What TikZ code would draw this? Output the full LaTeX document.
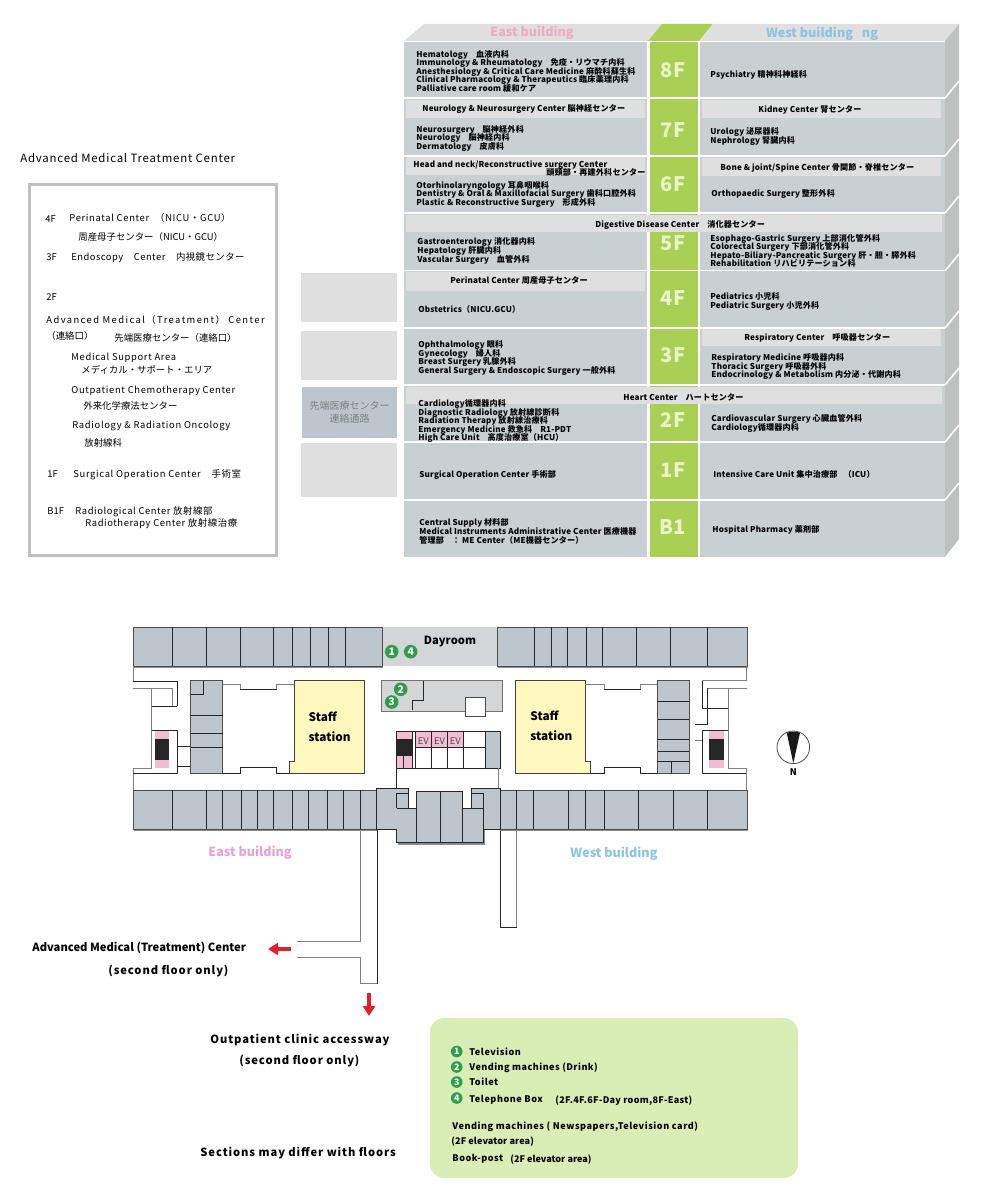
\documentclass[tikz,border=0pt]{standalone}
\usepackage{fontspec}
\setmainfont{Noto Sans CJK JP}
\usetikzlibrary{arrows.meta}
\definecolor{floorgray}{HTML}{C8D0D3}
\definecolor{bandgray}{HTML}{DFDFDF}
\definecolor{sidegray}{HTML}{BFC1C1}
\definecolor{floorgreen}{HTML}{A9CF55}
\definecolor{labelgreen}{HTML}{E9F4C9}
\definecolor{eastpink}{HTML}{F0A9BF}
\definecolor{eastlilac}{HTML}{E8A0D8}
\definecolor{westblue}{HTML}{8AC3E3}
\definecolor{roomgray}{HTML}{BCC6CC}
\definecolor{dayroomgray}{HTML}{D4D5D7}
\definecolor{staffyellow}{HTML}{FFF8BE}
\definecolor{evpink}{HTML}{F4BCD3}
\definecolor{spotgreen}{HTML}{2F9E4B}
\definecolor{legendgreen}{HTML}{D8EEB4}
\definecolor{arrowred}{HTML}{E0202F}
\begin{document}
\begin{tikzpicture}
    [x=0.5pt, y=-0.5pt,
    wide/.style={execute at begin node=\addfontfeature{LetterSpace=#1}},
    dept/.style={anchor=west, inner sep=0pt, yshift=-0.4pt, text height=3.4pt, text depth=0.8pt, font=\fontsize{4.05}{5}\selectfont\bfseries, wide=2},
    floorname/.style={inner sep=0pt, text=labelgreen, font=\fontsize{10}{12}\selectfont\bfseries},
    amtc/.style={anchor=west, inner sep=0pt, yshift=-0.5pt, text height=3.8pt, text depth=1pt, font=\fontsize{4.7}{6}\selectfont},
    wing/.style={inner sep=0pt, font=\fontsize{6.3}{8}\selectfont\bfseries},
    station/.style={anchor=west, inner sep=0pt, font=\fontsize{5.9}{8}\selectfont\bfseries},
    note/.style={anchor=west, inner sep=0pt, yshift=-0.5pt, text height=4pt, text depth=1pt, font=\fontsize{5.6}{7}\selectfont\bfseries},
    legend/.style={anchor=west, inner sep=0pt, yshift=-0.5pt, text height=3.6pt, text depth=1pt, font=\fontsize{4.55}{6}\selectfont\bfseries},
    spot/.style={circle, fill=spotgreen, text=white, inner sep=0pt, minimum size=6.8pt, font=\fontsize{5.2}{6}\selectfont\bfseries},
    spotsmall/.style={spot, minimum size=5.8pt, font=\fontsize{4.4}{5}\selectfont\bfseries},
    wall/.style={line width=0.45pt, black!85},
    softwall/.style={line width=0.45pt, black!50},
    shade/.style={fill=black!45},
    room/.style={fill=roomgray, draw=black!70, line width=0.45pt},
    redarrow/.style={arrowred, line width=2pt, -{Triangle[length=5pt, width=6pt]}}]
    \useasboundingbox (0,0) rectangle (1000,1202);

    %% Floor chart
    \fill[bandgray] (404,41) -- (424,24) -- (662,24) -- (648,41) -- cycle;
    \fill[floorgreen] (648,41) -- (662,24) -- (713,24) -- (699,41) -- cycle;
    \fill[bandgray] (699,41) -- (713,24) -- (959,24) -- (945,41) -- cycle;
    \fill[sidegray] (945,41) -- (959,24) -- (959,539) -- (945,557) -- cycle;
    \foreach \top/\bot in {42/97,99/155,157/212,214/270,271/327,329/384,386/441,443/499,501/557} {
        \fill[floorgray] (404,\top) rectangle (647,\bot);
        \fill[floorgreen] (650,\top) rectangle (698,\bot);
        \fill[floorgray] (700,\top) rectangle (945,\bot);
    }
    \foreach \y in {98,156,213,271,328,385,442,500}
        \draw[white, line width=0.8pt] (945,\y) -- (959,\y-17);
    \fill[bandgray] (406,100) rectangle (645,118);
    \fill[bandgray] (406,157) rectangle (645,175);
    \fill[bandgray] (406,215) rectangle (942,232);
    \fill[bandgray] (406,272) rectangle (645,291);
    \fill[bandgray] (406,387) rectangle (942,404);
    \fill[bandgray] (702,100) rectangle (941,118);
    \fill[bandgray] (702,158) rectangle (941,176);
    \fill[bandgray] (702,329) rectangle (941,346);

    \node[wing, text=eastpink] (East) at (532,33) {East building};
    \node[wing, text=westblue] (West) at (822,33.5) {West building\hspace{3pt} ng};

    \node[floorname] (F8) at (673,70) {8F};
    \node[floorname] (F7) at (673,130) {7F};
    \node[floorname] (F6) at (673,184) {6F};
    \node[floorname] (F5) at (673,243) {5F};
    \node[floorname] (F4) at (673,298) {4F};
    \node[floorname] (F3) at (673,355) {3F};
    \node[floorname] (F2) at (673,420) {2F};
    \node[floorname] (F1) at (673,470) {1F};
    \node[floorname] (B1) at (673,527) {B1};

    %% East departments
    \node[dept] (E8a) at (416,54) {Hematology\hspace{3pt} 血液内科};
    \node[dept] (E8b) at (416,62.5) {Immunology \& Rheumatology\hspace{3pt} 免疫・リウマチ内科};
    \node[dept] (E8c) at (416,71) {Anesthesiology \& Critical Care Medicine 麻酔科蘇生科};
    \node[dept] (E8d) at (416,79.5) {Clinical Pharmacology \& Therapeutics 臨床薬理内科};
    \node[dept] (E8e) at (416,88) {Palliative care room 緩和ケア};
    \node[dept] (E7a) at (422,108.5) {Neurology \& Neurosurgery Center 脳神経センター};
    \node[dept] (E7b) at (416,129) {Neurosurgery\hspace{3pt} 脳神経外科};
    \node[dept] (E7c) at (416,137.5) {Neurology\hspace{3pt} 脳神経内科};
    \node[dept] (E7d) at (416,146) {Dermatology\hspace{3pt} 皮膚科};
    \node[dept] (E6a) at (413,164) {Head and neck/Reconstructive surgery Center};
    \node[dept] (E6b) at (546,172.5) {頭頸部・再建外科センター};
    \node[dept] (E6c) at (416,185) {Otorhinolaryngology 耳鼻咽喉科};
    \node[dept] (E6d) at (416,193.5) {Dentistry \& Oral \& Maxillofacial Surgery 歯科口腔外科};
    \node[dept] (E6e) at (416,202) {Plastic \& Reconstructive Surgery\hspace{3pt} 形成外科};
    \node[dept] (E5a) at (595,224) {Digestive Disease Center\hspace{3pt} 消化器センター};
    \node[dept] (E5b) at (417,241.5) {Gastroenterology 消化器内科};
    \node[dept] (E5c) at (417,250) {Hepatology 肝臓内科};
    \node[dept] (E5d) at (417,259) {Vascular Surgery\hspace{3pt} 血管外科};
    \node[dept] (E4a) at (450,280.5) {Perinatal Center 周産母子センター};
    \node[dept] (E4b) at (418,309) {Obstetrics（NICU.GCU）};
    \node[dept] (E3a) at (418,344.5) {Ophthalmology 眼科};
    \node[dept] (E3b) at (418,353) {Gynecology\hspace{3pt} 婦人科};
    \node[dept] (E3c) at (418,361.5) {Breast Surgery 乳腺外科};
    \node[dept] (E3d) at (418,370) {General Surgery \& Endoscopic Surgery 一般外科};
    \node[dept] (E2a) at (623,397) {Heart Center\hspace{3pt} ハートセンター};
    \node[dept] (E2b) at (418,403) {Cardiology循環器内科};
    \node[dept] (E2c) at (418,412) {Diagnostic Radiology 放射線診断科};
    \node[dept] (E2d) at (418,420.5) {Radiation Therapy 放射線治療科};
    \node[dept] (E2e) at (418,429) {Emergency Medicine 救急科\hspace{3pt} R1-PDT};
    \node[dept] (E2f) at (418,437.5) {High Care Unit\hspace{3pt} 高度治療室（HCU）};
    \node[dept] (E1a) at (419,474) {Surgical Operation Center 手術部};
    \node[dept] (E0a) at (419,522.5) {Central Supply 材料部};
    \node[dept] (E0b) at (419,531) {Medical Instruments Administrative Center 医療機器};
    \node[dept] (E0c) at (419,540) {管理部\hspace{3pt} ： ME Center（ME機器センター）};

    %% West departments
    \node[dept] (W8a) at (710,74) {Psychiatry 精神科神経科};
    \node[dept] (W7a) at (758,109) {Kidney Center 腎センター};
    \node[dept] (W7b) at (710,131) {Urology 泌尿器科};
    \node[dept] (W7c) at (710,140) {Nephrology 腎臓内科};
    \node[dept] (W6a) at (720,167.5) {Bone \& joint/Spine Center 骨関節・脊椎センター};
    \node[dept] (W6b) at (711,193.5) {Orthopaedic Surgery 整形外科};
    \node[dept] (W5a) at (710,238) {Esophago-Gastric Surgery 上部消化管外科};
    \node[dept] (W5b) at (710,246.5) {Colorectal Surgery 下部消化管外科};
    \node[dept] (W5c) at (710,255) {Hepato-Biliary-Pancreatic Surgery 肝・胆・膵外科};
    \node[dept] (W5d) at (710,263.5) {Rehabilitation リハビリテーション科};
    \node[dept] (W4a) at (710,296) {Pediatrics 小児科};
    \node[dept] (W4b) at (710,305) {Pediatric Surgery 小児外科};
    \node[dept] (W3a) at (744,337.5) {Respiratory Center\hspace{3pt} 呼吸器センター};
    \node[dept] (W3b) at (711,357) {Respiratory Medicine 呼吸器内科};
    \node[dept] (W3c) at (711,366) {Thoracic Surgery 呼吸器外科};
    \node[dept] (W3d) at (711,374.5) {Endocrinology \& Metabolism 内分泌・代謝内科};
    \node[dept] (W2a) at (711,418.5) {Cardiovascular Surgery 心臓血管外科};
    \node[dept] (W2b) at (711,427.5) {Cardiology循環器内科};
    \node[dept] (W1a) at (713,474) {Intensive Care Unit 集中治療部\hspace{3pt}（ICU）};
    \node[dept] (W0a) at (712,529) {Hospital Pharmacy 薬剤部};

    %% Link blocks
    \fill[bandgray] (301,273) rectangle (397,322);
    \fill[bandgray] (301,331) rectangle (397,380);
    \fill[roomgray] (302,387) rectangle (397,438);
    \fill[bandgray] (301,443) rectangle (397,497);
    \node[align=center, inner sep=0pt, text=black!50, font=\fontsize{5}{6.6}\selectfont] (Link) at (349.5,412.5) {先端医療センター\\連絡通路};

    %% Advanced Medical Treatment Center
    \node[amtc, font=\fontsize{5.7}{7}\selectfont, wide=7] (Title) at (20,159) {Advanced Medical Treatment Center};
    \draw[sidegray, line width=1.3pt] (29.5,184.5) rectangle (276.5,555.5);
    \node[amtc] (A4) at (45,219) {4F};
    \node[amtc, wide=7] (A4a) at (69,218) {Perinatal Center\hspace{3pt}（NICU・GCU）};
    \node[amtc] (A4b) at (78,237) {周産母子センター（NICU・GCU）};
    \node[amtc] (A3) at (46,257) {3F};
    \node[amtc, wide=5] (A3a) at (71,257) {Endoscopy\hspace{4pt} Center\hspace{4pt} 内視鏡センター};
    \node[amtc] (A2) at (46,297) {2F};
    \node[amtc, wide=15] (A2a) at (46,320) {Advanced Medical（Treatment） Center};
    \node[amtc] (A2b) at (46,336) {（連絡口）};
    \node[amtc] (A2c) at (114,338) {先端医療センター（連絡口）};
    \node[amtc, wide=7] (A2d) at (71,356.5) {Medical Support Area};
    \node[amtc] (A2e) at (81,370) {メディカル・サポート・エリア};
    \node[amtc, wide=7] (A2f) at (71,390) {Outpatient Chemotherapy Center};
    \node[amtc] (A2g) at (83,406) {外来化学療法センター};
    \node[amtc, wide=7] (A2h) at (72,425) {Radiology \& Radiation Oncology};
    \node[amtc] (A2i) at (84,443) {放射線科};
    \node[amtc] (A1) at (47,474) {1F};
    \node[amtc, wide=7] (A1a) at (73,474) {Surgical Operation Center\hspace{4pt} 手術室};
    \node[amtc] (A0) at (47,511) {B1F};
    \node[amtc, wide=6] (A0a) at (75,511) {Radiological Center 放射線部};
    \node[amtc, wide=6] (A0b) at (85,522.5) {Radiotherapy Center 放射線治療};

    %% Plan: corridors
    \draw[softwall] (360,829) -- (360,941) -- (297,941);
    \draw[softwall] (297,957) -- (360,957) -- (360,983);
    \draw[wall] (360,983) -- (377,983) -- (377,829);
    \draw[softwall, line width=0.8pt] (360,983.5) -- (377,983.5);
    \draw[wall] (500,829) -- (500,927) -- (516.7,927);
    \draw[softwall] (516.7,927) -- (516.7,829);

    %% Plan: room strips
    \fill[shade] (134,628) rectangle (383,667.5);
    \fill[shade] (498,628) rectangle (748,667.5);
    \fill[shade] (134,791) rectangle (377,830.5);
    \fill[shade] (500,791) rectangle (748,830.5);
    \fill[shade] (397.5,830) rectangle (484.5,844.5);
    \draw[room] (133,627) rectangle (382.5,666);
    \fill[dayroomgray] (382.5,627) rectangle (497,666);
    \draw[room] (497,627) rectangle (747,666);
    \draw[room] (133,790) rectangle (376.5,829);
    \draw[room] (500,790) rectangle (747,829);
    \foreach \x in {172.7,206.7,240,273.7,292.7,310.3,328.7,345.3,534.3,551.3,567.3,586.3,602.3,636.7,670.3,707.3}
        \draw[wall] (\x,627) -- (\x,666);
    \foreach \x in {172.7,206.7,222.7,241.7,257.3,273.7,292.7,308.7,327.7,343.7,360,516.7,533.3,568.7,585.3,604.3,638.7,673.3,707.3}
        \draw[wall] (\x,790) -- (\x,829);
    \node[station, font=\fontsize{5.6}{7}\selectfont\bfseries, anchor=center] (Dayroom) at (450,642) {Dayroom};

    %% Plan: centre piece
    \draw[room, draw=black!85] (376.5,788.3) -- (408.3,788.3) -- (408.3,808.3) -- (416.7,808.3) -- (416.7,791.7) -- (462.7,791.7) -- (462.7,808.3) -- (471.7,808.3) -- (471.7,788.3) -- (500,788.3) -- (500,829) -- (483.3,829) -- (483.3,842.7) -- (396.7,842.7) -- (396.7,829) -- (376.5,829) -- cycle;
    \draw[wall] (396.7,808.3) -- (396.7,793.3) -- (408.3,793.3);
    \draw[wall] (396.7,808.3) -- (416.7,808.3) -- (416.7,842.7);
    \draw[wall] (440.7,791.7) -- (440.7,842.7);
    \draw[wall] (462.7,808.3) -- (462.7,842.7);
    \draw[wall] (471.7,793.3) -- (483.3,793.3) -- (483.3,829);
    \draw[wall] (471.7,808.3) -- (483.3,808.3);

    %% Plan: east wing
    \draw[softwall] (133,666) -- (133,681.7);
    \draw[wall] (133,681.7) -- (177.3,681.7) -- (177.3,706);
    \draw[softwall] (133,688.3) -- (172.7,688.3) -- (172.7,706);
    \draw[softwall] (151.7,688.3) -- (151.7,768.3) -- (133,768.3) -- (133,790);
    \draw[wall] (151.7,706) -- (177.3,706);
    \draw[wall] (151.7,730) -- (177.3,730) -- (177.3,773.3) -- (133,773.3);
    \draw[wall] (177.3,746.7) -- (191.7,746.7);
    \draw[wall] (177.3,766) -- (191.7,766);
    \fill[evpink] (155,731) rectangle (169.3,768.3);
    \fill[black!85] (155,739.3) rectangle (169.3,760);
    \draw[room] (190.7,680.7) rectangle (222.7,773.3);
    \draw[wall] (190.7,694) -- (203.3,694) -- (203.3,680.7);
    \foreach \y in {715.7,733.3,747.7}
        \draw[wall] (190.7,\y) -- (222.7,\y);
    \draw[softwall] (222.7,684) -- (240,684) -- (240,689.3);
    \draw[wall] (240,689.3) -- (276.7,689.3);
    \draw[softwall] (276.7,689.3) -- (276.7,684) -- (294.3,684);
    \draw[wall] (222.7,773.3) -- (240,773.3) -- (240,767.3) -- (276.7,767.3) -- (276.7,773.3) -- (289.3,773.3);
    \draw[fill=staffyellow, draw=black!75, line width=0.45pt] (294.3,680.7) -- (364.3,680.7) -- (364.3,773.3) -- (289.3,773.3) -- (289.3,761) -- (294.3,761) -- cycle;
    \node[station] (StaffE) at (308.3,716.5) {Staff};
    \node[station] (StationE) at (308.3,736.5) {station};

    %% Plan: centre core
    \draw[fill=dayroomgray, draw=black!55, line width=0.45pt] (381.3,680.7) -- (502.3,680.7) -- (502.3,711) -- (485.7,711) -- (485.7,716) -- (465.3,716) -- (465.3,711) -- (381.3,711) -- cycle;
    \draw[fill=white, draw=black!70, line width=0.45pt] (465.3,697.3) rectangle (485.7,716);
    \draw[wall] (423.3,680.7) -- (423.3,700) -- (412.3,700) -- (412.3,710);
    \fill[evpink] (396.5,731.7) rectangle (412.3,768.3);
    \fill[black!85] (396.5,739.3) rectangle (412.3,756);
    \fill[evpink] (415,731.7) rectangle (463.3,747.3);
    \fill[roomgray] (485.7,731.7) rectangle (500.7,768.3);
    \draw[wall] (396.3,731.7) rectangle (500.7,768.3);
    \foreach \x in {412.3,415,431.7,447.3,463.3,485.7}
        \draw[wall] (\x,731.7) -- (\x,768.3);
    \draw[wall] (403.3,756) -- (403.3,768.3);
    \draw[wall] (415,747.7) -- (485.7,747.7);
    \draw[wall] (396.3,768.3) -- (396.3,788.3);
    \draw[softwall] (498.7,768.3) -- (498.7,788.3);
    \node[inner sep=0pt, text=black!70, font=\fontsize{4.6}{6}\selectfont] (EV1) at (423.3,741) {EV};
    \node[inner sep=0pt, text=black!70, font=\fontsize{4.6}{6}\selectfont] (EV2) at (439.5,741) {EV};
    \node[inner sep=0pt, text=black!70, font=\fontsize{4.6}{6}\selectfont] (EV3) at (455.3,741) {EV};
    \node[spot] (S1) at (391.7,651.7) {1};
    \node[spot] (S4) at (410.7,651.7) {4};
    \node[spot] (S2) at (400.7,689.3) {2};
    \node[spot] (S3) at (391.7,702) {3};

    %% Plan: west wing
    \draw[fill=staffyellow, draw=black!75, line width=0.45pt] (515.3,680.7) -- (585.3,680.7) -- (585.3,761) -- (590.7,761) -- (590.7,773.3) -- (515.3,773.3) -- cycle;
    \node[station] (StaffW) at (530,716) {Staff};
    \node[station] (StationW) at (530,736) {station};
    \draw[softwall] (585.3,684) -- (604,684) -- (604,689.3);
    \draw[wall] (604,689.3) -- (640.7,689.3);
    \draw[softwall] (640.7,689.3) -- (640.7,684) -- (657.7,684);
    \draw[wall] (590.7,773.3) -- (604,773.3) -- (604,767.3) -- (640.7,767.3) -- (640.7,773.3) -- (657.7,773.3);
    \draw[room] (657.7,680.7) rectangle (689.3,773.3);
    \foreach \y in {701,719,739.3,751,761}
        \draw[wall] (657.7,\y) -- (689.3,\y);
    \draw[wall] (671.7,761) -- (671.7,773.3);
    \draw[softwall] (746.7,666) -- (746.7,681);
    \draw[softwall] (702.3,680.7) -- (746.7,680.7);
    \draw[softwall] (746.7,688.3) -- (707.3,688.3);
    \draw[wall] (702.3,680.7) -- (702.3,708.3) -- (728.3,708.3);
    \draw[wall] (707.3,688.3) -- (707.3,724) -- (695,724);
    \draw[softwall] (695,740) -- (702.3,740);
    \draw[wall] (728.3,730.7) -- (702.3,730.7) -- (702.3,773.3) -- (746.7,773.3);
    \draw[softwall] (728.3,688.3) -- (728.3,768.3) -- (746.7,768.3) -- (746.7,790);
    \fill[evpink] (709.3,730.7) rectangle (724.3,768.3);
    \fill[black!85] (709.3,739.3) rectangle (724.3,760);

    %% Compass
    \draw[black!70, line width=0.4pt] (793.3,747.3) circle (16.3);
    \fill[black!90] (786.7,732.7) to[bend left=15] (800,732.7) -- (793.3,763.3) -- cycle;
    \node[inner sep=0pt, font=\fontsize{4.6}{6}\selectfont\bfseries] (North) at (793.3,772) {N};

    %% Wing names
    \node[wing, text=eastlilac] (EastPlan) at (250,853) {East building};
    \node[wing, text=westblue] (WestPlan) at (614,853.5) {West building};

    %% Notes and arrows
    \node[note] (AmcA) at (32,947) {Advanced Medical (Treatment) Center};
    \node[note, wide=8] (AmcB) at (108,970) {(second floor only)};
    \node[note, wide=8] (OpcA) at (210,1039) {Outpatient clinic accessway};
    \node[note, wide=8] (OpcB) at (239,1060) {(second floor only)};
    \node[note, wide=8] (Sect) at (200,1152) {Sections may differ with floors};
    \coordinate (ArrW1) at (291,949);
    \coordinate (ArrW2) at (268,949);
    \coordinate (ArrS1) at (369,993);
    \coordinate (ArrS2) at (369,1016);
    \draw[redarrow] (ArrW1) -- (ArrW2);
    \draw[redarrow] (ArrS1) -- (ArrS2);

    %% Legend
    \fill[legendgreen, rounded corners=7pt] (430,1018) rectangle (798,1178);
    \node[spotsmall] (L1) at (456.7,1051.5) {1};
    \node[spotsmall] (L2) at (456.7,1067) {2};
    \node[spotsmall] (L3) at (456.7,1082) {3};
    \node[spotsmall] (L4) at (456.7,1098) {4};
    \node[legend, wide=6] (T1) at (469,1051.5) {Television};
    \node[legend, wide=5] (T2) at (469,1067) {Vending machines (Drink)};
    \node[legend, wide=6] (T3) at (469,1082) {Toilet};
    \node[legend, wide=6] (T4) at (469,1098.5) {Telephone Box};
    \node[legend, wide=3] (T4b) at (555,1099.5) {(2F.4F.6F-Day room,8F-East)};
    \node[legend, wide=6] (T5) at (452,1125.5) {Vending machines ( Newspapers,Television card)};
    \node[legend, wide=1] (T6) at (451,1141) {(2F elevator area)};
    \node[legend, wide=6] (T7) at (452,1158) {Book-post};
    \node[legend] (T8) at (510,1159) {(2F elevator area)};
\end{tikzpicture}
\end{document}
